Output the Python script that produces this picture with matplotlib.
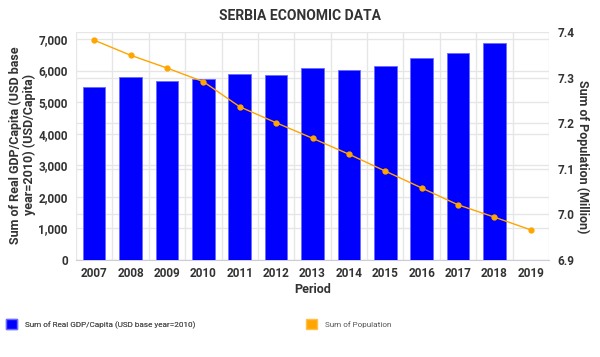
import matplotlib.pyplot as plt
from matplotlib.patches import Patch
from matplotlib.transforms import blended_transform_factory

plt.rcParams['font.family'] = ['Roboto', 'DejaVu Sans']

periods = ['2007', '2008', '2009', '2010', '2011', '2012', '2013',
           '2014', '2015', '2016', '2017', '2018', '2019']
gdp_per_capita = [5470, 5806, 5680, 5733, 5892, 5870, 6072,
                  6018, 6145, 6389, 6547, 6874, None]
population = [7.382, 7.349, 7.321, 7.291, 7.236, 7.201, 7.167,
              7.132, 7.095, 7.058, 7.021, 6.994, 6.966]
pop_ticks = [6.9, 7.0, 7.1, 7.2, 7.3, 7.4]

bar_color = '#0000ff'
line_color = '#ffa500'
grid_color = '#e6e6e6'
text_color = '#333333'

fig = plt.figure(figsize=(6, 3.57), dpi=100)
ax = fig.add_axes([0.1267, 0.2717, 0.7883, 0.6387])
ax2 = ax.twinx()

x = list(range(len(periods)))
bx = [i for i, v in zip(x, gdp_per_capita) if v is not None]
bv = [v for v in gdp_per_capita if v is not None]
ax.bar(bx, bv, width=0.62, color=bar_color, edgecolor='#6a6aff', linewidth=0.6, zorder=3)
ax2.plot(x, population, color=line_color, marker='o', markersize=3.5, linewidth=1, zorder=4)

ax.set_xlim(-0.5, len(periods) - 0.5)
ax.set_ylim(0, 7222)
ax2.set_ylim(6.9, 7.4)
ax.set_yticks(range(0, 7001, 1000))
ax.set_yticklabels([f'{v:,}' for v in range(0, 7001, 1000)])
ax2.set_yticks(pop_ticks)
ax2.set_yticklabels([f'{v:.1f}' for v in pop_ticks])
ax.set_xticks(x)
ax.set_xticklabels(periods)

# grids: category boundaries, left ticks, and right ticks (drawn behind bars)
ax.set_xticks([i - 0.5 for i in range(len(periods) + 1)], minor=True)
ax.grid(True, which='minor', axis='x', color=grid_color, linewidth=1, zorder=0)
ax.grid(True, which='major', axis='y', color=grid_color, linewidth=1, zorder=0)
trans = blended_transform_factory(ax.transAxes, ax2.transData)
for v in pop_ticks:
    ax.plot([0, 1], [v, v], transform=trans, color=grid_color, linewidth=1, zorder=0)
ax.set_axisbelow(True)

for a in (ax, ax2):
    for s in a.spines.values():
        s.set_visible(False)
    a.tick_params(length=0, labelsize=8.5, labelcolor=text_color, which='both')
    for lbl in a.get_xticklabels() + a.get_yticklabels():
        lbl.set_fontweight('bold')
ax.spines['bottom'].set_visible(True)
ax.spines['bottom'].set_color('#ccccdd')
ax.tick_params(axis='x', pad=5)
ax.tick_params(axis='y', pad=6)
ax2.tick_params(axis='y', pad=6)

ax.set_xlabel('Period', fontsize=9, fontweight='bold', color=text_color, labelpad=2)
fig.text(0.0375, 0.594, 'Sum of Real GDP/Capita (USD base\nyear=2010) (USD/Capita)',
         rotation=90, ha='center', va='center', multialignment='center',
         fontsize=9, fontweight='bold', color=text_color, linespacing=1.1)
fig.text(0.9717, 0.560, 'Sum of Population (Million)', rotation=270,
         ha='center', va='center', fontsize=9, fontweight='bold', color=text_color)

fig.text(0.5, 0.955, 'SERBIA ECONOMIC DATA', ha='center', va='center',
         fontsize=10, fontweight='bold', color=text_color)

leg1 = fig.legend(handles=[Patch(facecolor=bar_color, edgecolor='#6a6aff')],
                  labels=['Sum of Real GDP/Capita (USD base year=2010)'],
                  loc='center left', bbox_to_anchor=(-0.003, 0.092), frameon=False,
                  fontsize=5.9, handlelength=1.45, handleheight=1.45, handletextpad=0.9,
                  labelcolor='#555555')
fig.add_artist(leg1)
fig.legend(handles=[Patch(facecolor=line_color, edgecolor='#ffc04d')],
           labels=['Sum of Population'],
           loc='center left', bbox_to_anchor=(0.497, 0.092), frameon=False,
           fontsize=5.9, handlelength=1.45, handleheight=1.45, handletextpad=0.9,
           labelcolor='#555555')

fig.savefig('out.png', dpi=100)
